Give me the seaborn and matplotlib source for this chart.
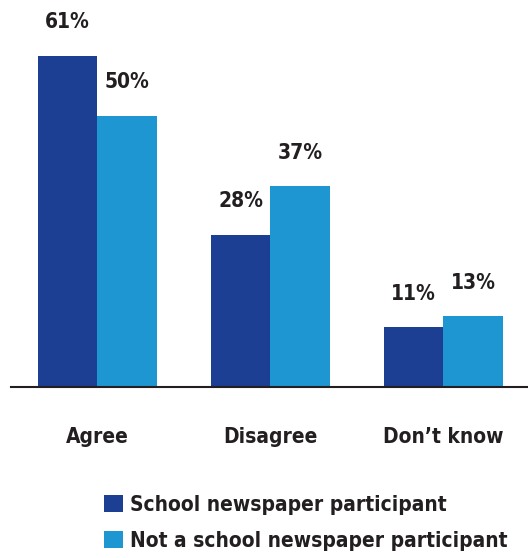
import matplotlib
matplotlib.use("Agg")
import matplotlib.pyplot as plt
import seaborn as sns
import pandas as pd

categories = ["Agree", "Disagree", "Don\u2019t know"]
groups = ["School newspaper participant", "Not a school newspaper participant"]
participant = [61, 28, 11]
non_participant = [50, 37, 13]
colors = ["#1C3F94", "#1E96D2"]

df = pd.DataFrame({
    "category": categories * 2,
    "group": [groups[0]] * 3 + [groups[1]] * 3,
    "value": participant + non_participant,
})

sns.set_theme(style="white")
font = ["DejaVu Sans"]
plt.rcParams["font.family"] = font
plt.rcParams["font.weight"] = "bold"
plt.rcParams["font.stretch"] = "condensed"

fig = plt.figure(figsize=(5.28, 5.58), dpi=100)
ax = fig.add_axes([11 / 528, (558 - 387) / 558, 517 / 528, 387 / 558])
sns.barplot(data=df, x="category", y="value", hue="group", palette=colors,
            width=0.69, saturation=1, linewidth=0, ax=ax, legend=True)

for cont in ax.containers:
    ax.bar_label(cont, fmt="%d%%", padding=17, fontsize=15, fontweight="bold",
                 fontstretch="condensed", color="#231F20")

ax.set_xlim(-0.5, 2.49)
ax.set_ylim(0, 71.3)
ax.set_xlabel("")
ax.set_ylabel("")
ax.set_yticks([])
for s in ["top", "right", "left"]:
    ax.spines[s].set_visible(False)
ax.spines["bottom"].set_color("#231F20")
ax.spines["bottom"].set_linewidth(1.5)
ax.tick_params(axis="x", length=0, pad=29, labelsize=15, labelcolor="#231F20")
for t in ax.get_xticklabels():
    t.set_fontweight("bold")
    t.set_fontstretch("condensed")

handles, labels = ax.get_legend_handles_labels()
ax.get_legend().remove()
fig.legend(handles, labels, loc="upper left", bbox_to_anchor=(104 / 528, 1 - 495 / 558),
           frameon=False, handlelength=0.9, handleheight=0.9,
           handletextpad=0.35, labelspacing=0.75, borderpad=0, borderaxespad=0,
           prop={"weight": "bold", "size": 15, "family": font, "stretch": "condensed"})
for t in fig.legends[0].get_texts():
    t.set_color("#231F20")

fig.savefig("out.png", dpi=100)
